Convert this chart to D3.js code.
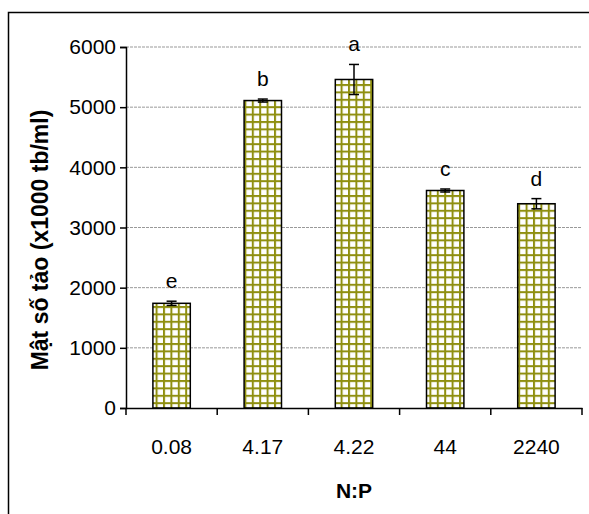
<!DOCTYPE html>
<html>
<head>
<meta charset="utf-8">
<script src="https://cdn.jsdelivr.net/npm/d3@7"></script>
<style>
  body { margin: 0; background: #fff; }
  text { font-family: "Liberation Sans", Arial, sans-serif; }
</style>
</head>
<body>
<div id="chart"></div>
<script>
// data
var ratios = ["0.08", "4.17", "4.22", "44", "2240"];
var density = [1740, 5110, 5460, 3615, 3395];
var errs = [35, 25, 250, 25, 85];
var groups = ["e", "b", "a", "c", "d"];
var yticks = [0, 1000, 2000, 3000, 4000, 5000, 6000];

var W = 589, H = 514;
var margin = { top: 47, right: 7, bottom: 106, left: 126 };
var width = W - margin.left - margin.right;
var height = H - margin.top - margin.bottom;
var fs = "21px";

var svg = d3.select("#chart").append("svg")
    .attr("width", W)
    .attr("height", H);

// bar fill pattern (olive grid)
var pat = svg.append("defs").append("pattern")
    .attr("id", "grid")
    .attr("patternUnits", "userSpaceOnUse")
    .attr("width", 7.4)
    .attr("height", 7.4);
pat.append("rect").attr("width", 7.4).attr("height", 7.4).attr("fill", "#fff");
pat.append("rect").attr("width", 2).attr("height", 7.4).attr("fill", "#8f8f10");
pat.append("rect").attr("width", 7.4).attr("height", 2).attr("fill", "#8f8f10");

// outer frame
svg.append("rect")
    .attr("x", 8.5).attr("y", 12.5)
    .attr("width", W + 10).attr("height", H + 10)
    .attr("fill", "none")
    .attr("stroke", "#000")
    .attr("stroke-width", 1.5);

var g = svg.append("g")
    .attr("transform", "translate(" + margin.left + "," + margin.top + ")");

var x = d3.scaleBand()
    .domain(ratios)
    .range([0, width])
    .paddingInner(0.59)
    .paddingOuter(0.295);

var y = d3.scaleLinear()
    .domain([0, 6000])
    .range([height, 0]);

// gridlines
g.selectAll(".gridline")
    .data(yticks.slice(1))
    .enter().append("line")
    .attr("class", "gridline")
    .attr("x1", 0).attr("x2", width)
    .attr("y1", function(d) { return y(d); })
    .attr("y2", function(d) { return y(d); })
    .attr("stroke", "#999")
    .attr("stroke-width", 1)
    .attr("stroke-dasharray", "3,1");

// bars
g.selectAll(".bar")
    .data(density)
    .enter().append("rect")
    .attr("class", "bar")
    .attr("x", function(d, i) { return x(ratios[i]); })
    .attr("y", function(d) { return y(d); })
    .attr("width", x.bandwidth())
    .attr("height", function(d) { return height - y(d); })
    .attr("fill", "url(#grid)")
    .attr("stroke", "#000")
    .attr("stroke-width", 1.5);

// error bars
var eb = g.selectAll(".err")
    .data(density)
    .enter().append("g")
    .attr("class", "err")
    .attr("stroke", "#000")
    .attr("stroke-width", 1.5);

eb.append("line")
    .attr("x1", function(d, i) { return x(ratios[i]) + x.bandwidth() / 2; })
    .attr("x2", function(d, i) { return x(ratios[i]) + x.bandwidth() / 2; })
    .attr("y1", function(d, i) { return y(d + errs[i]); })
    .attr("y2", function(d, i) { return y(d - errs[i]); });

[1, -1].forEach(function(s) {
  eb.append("line")
    .attr("x1", function(d, i) { return x(ratios[i]) + x.bandwidth() / 2 - 5; })
    .attr("x2", function(d, i) { return x(ratios[i]) + x.bandwidth() / 2 + 5; })
    .attr("y1", function(d, i) { return y(d + s * errs[i]); })
    .attr("y2", function(d, i) { return y(d + s * errs[i]); });
});

// significance letters
g.selectAll(".grp")
    .data(density)
    .enter().append("text")
    .attr("class", "grp")
    .attr("x", function(d, i) { return x(ratios[i]) + x.bandwidth() / 2; })
    .attr("y", function(d, i) { return y(d + errs[i]) - 13; })
    .attr("text-anchor", "middle")
    .attr("font-size", fs)
    .text(function(d, i) { return groups[i]; });

// axes
var yAxis = g.append("g")
    .call(d3.axisLeft(y).tickValues(yticks).tickSize(6).tickPadding(4).tickFormat(d3.format("d")));
var xAxis = g.append("g")
    .attr("transform", "translate(0," + height + ")")
    .call(d3.axisBottom(x).tickSize(0).tickPadding(31));

// ticks between categories
xAxis.selectAll(".sep")
    .data(d3.range(ratios.length + 1))
    .enter().append("line")
    .attr("x1", function(d) { return d * width / ratios.length; })
    .attr("x2", function(d) { return d * width / ratios.length; })
    .attr("y1", 0).attr("y2", 7)
    .attr("stroke", "#000")
    .attr("stroke-width", 1.5);

[yAxis, xAxis].forEach(function(a) {
  a.select(".domain").attr("stroke-width", 1.5);
  a.selectAll(".tick line").attr("stroke-width", 1.5);
  a.selectAll("text").attr("font-size", fs).attr("font-family", "Liberation Sans, Arial, sans-serif").attr("fill", "#000");
});

// axis titles
svg.append("text")
    .attr("transform", "translate(48,240) rotate(-90)")
    .attr("text-anchor", "middle")
    .attr("font-size", "23px")
    .attr("font-weight", "bold")
    .text("Mật số tảo (x1000 tb/ml)");

svg.append("text")
    .attr("x", margin.left + width / 2)
    .attr("y", 498)
    .attr("text-anchor", "middle")
    .attr("font-size", "21px")
    .attr("font-weight", "bold")
    .text("N:P");
</script>
</body>
</html>
